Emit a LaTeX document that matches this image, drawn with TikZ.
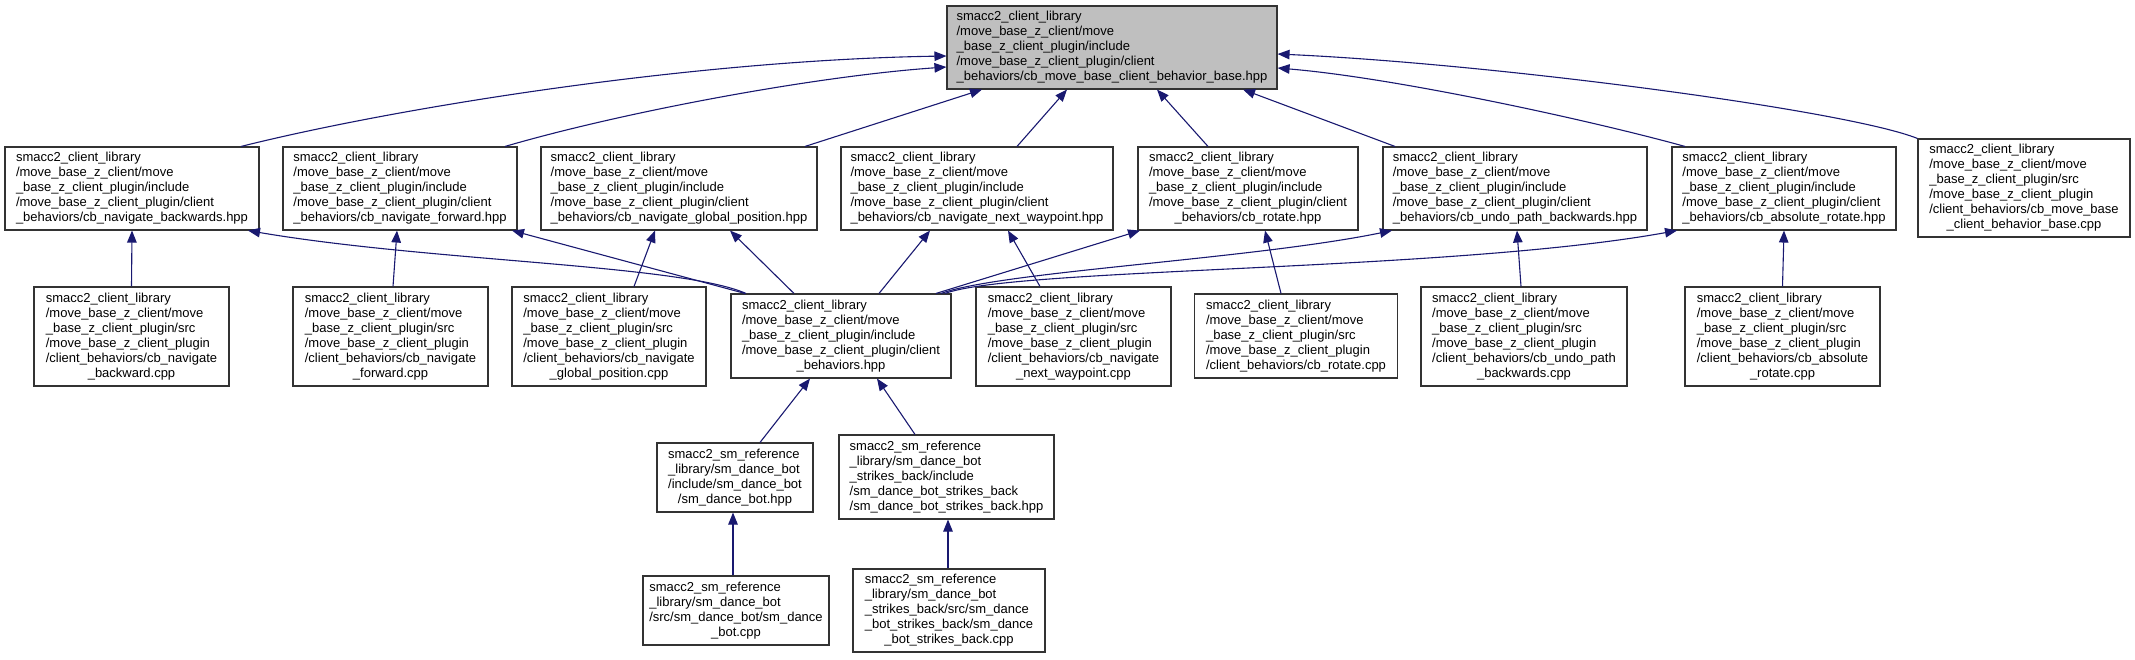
\documentclass[tikz,border=0pt]{standalone}
\usepackage{fontspec}
\setmainfont{Liberation Sans}
\usetikzlibrary{arrows.meta,calc}
\definecolor{edgeblue}{RGB}{25,25,112}
\definecolor{rootgray}{RGB}{191,191,191}
\newcommand{\dlab}[2]{\begin{tabular}{@{}l@{}}#1\\\multicolumn{1}{@{}c@{}}{#2}\end{tabular}}
\newcommand{\incpfx}{smacc2\_client\_library\\/move\_base\_z\_client/move\\\_base\_z\_client\_plugin/include\\/move\_base\_z\_client\_plugin/client}
\newcommand{\srcpfx}{smacc2\_client\_library\\/move\_base\_z\_client/move\\\_base\_z\_client\_plugin/src\\/move\_base\_z\_client\_plugin}
\begin{document}
\begin{tikzpicture}[x=1pt,y=-1pt,
  box/.style={draw=black!80, line width=1.1pt, fill=white, inner sep=0pt, anchor=center, font=\fontsize{13}{15}\selectfont},
  dep/.style={draw=edgeblue, line width=1.1pt, -{Triangle[length=12pt,width=9.5pt]}, fill=none}]
\useasboundingbox (0,0) rectangle (2135,659);
% root
\node[box, fill=rootgray, minimum width=330pt, minimum height=83pt] (root) at (1112,47.5) {\dlab{\incpfx}{\_behaviors/cb\_move\_base\_client\_behavior\_base.hpp}};
% row 2
\node[box, minimum width=254pt, minimum height=83pt] (A) at (132,188.5) {\dlab{\incpfx}{\_behaviors/cb\_navigate\_backwards.hpp}};
\node[box, minimum width=234pt, minimum height=83pt] (B) at (400,188.5) {\dlab{\incpfx}{\_behaviors/cb\_navigate\_forward.hpp}};
\node[box, minimum width=276pt, minimum height=83pt] (C) at (679,188.5) {\dlab{\incpfx}{\_behaviors/cb\_navigate\_global\_position.hpp}};
\node[box, minimum width=272pt, minimum height=83pt] (D) at (977,188.5) {\dlab{\incpfx}{\_behaviors/cb\_navigate\_next\_waypoint.hpp}};
\node[box, minimum width=220pt, minimum height=83pt] (E) at (1248,188.5) {\dlab{\incpfx}{\_behaviors/cb\_rotate.hpp}};
\node[box, minimum width=264pt, minimum height=83pt] (F) at (1515,188.5) {\dlab{\incpfx}{\_behaviors/cb\_undo\_path\_backwards.hpp}};
\node[box, minimum width=224pt, minimum height=83pt] (G) at (1784,188.5) {\dlab{\incpfx}{\_behaviors/cb\_absolute\_rotate.hpp}};
\node[box, minimum width=212pt, minimum height=98pt] (H) at (2024,188) {\dlab{\srcpfx\\/client\_behaviors/cb\_move\_base}{\_client\_behavior\_base.cpp}};
% row 3
\node[box, minimum width=195pt, minimum height=99pt] (A2) at (131.5,336.5) {\dlab{\srcpfx\\/client\_behaviors/cb\_navigate}{\_backward.cpp}};
\node[box, minimum width=195pt, minimum height=99pt] (B2) at (390.5,336.5) {\dlab{\srcpfx\\/client\_behaviors/cb\_navigate}{\_forward.cpp}};
\node[box, minimum width=194pt, minimum height=99pt] (C2) at (609,336.5) {\dlab{\srcpfx\\/client\_behaviors/cb\_navigate}{\_global\_position.cpp}};
\node[box, minimum width=220pt, minimum height=84pt] (CB) at (841,336) {\dlab{\incpfx}{\_behaviors.hpp}};
\node[box, minimum width=195pt, minimum height=99pt] (D2) at (1073.5,336.5) {\dlab{\srcpfx\\/client\_behaviors/cb\_navigate}{\_next\_waypoint.cpp}};
\node[box, minimum width=203pt, minimum height=84pt] (E2) at (1296,336) {\dlab{\srcpfx}{/client\_behaviors/cb\_rotate.cpp}};
\node[box, minimum width=206pt, minimum height=99pt] (F2) at (1524,336.5) {\dlab{\srcpfx\\/client\_behaviors/cb\_undo\_path}{\_backwards.cpp}};
\node[box, minimum width=195pt, minimum height=99pt] (G2) at (1782.5,336.5) {\dlab{\srcpfx\\/client\_behaviors/cb\_absolute}{\_rotate.cpp}};
% row 4
\node[box, minimum width=156pt, minimum height=69pt] (SM) at (735,477.5) {\dlab{smacc2\_sm\_reference\\\_library/sm\_dance\_bot\\/include/sm\_dance\_bot}{/sm\_dance\_bot.hpp}};
\node[box, minimum width=215pt, minimum height=84pt] (SMS) at (946.5,477) {\dlab{smacc2\_sm\_reference\\\_library/sm\_dance\_bot\\\_strikes\_back/include\\/sm\_dance\_bot\_strikes\_back}{/sm\_dance\_bot\_strikes\_back.hpp}};
% row 5
\node[box, minimum width=186pt, minimum height=69pt] (SMc) at (736,610.5) {\dlab{smacc2\_sm\_reference\\\_library/sm\_dance\_bot\\/src/sm\_dance\_bot/sm\_dance}{\_bot.cpp}};
\node[box, minimum width=192pt, minimum height=83pt] (SMSc) at (949,610.5) {\dlab{smacc2\_sm\_reference\\\_library/sm\_dance\_bot\\\_strikes\_back/src/sm\_dance\\\_bot\_strikes\_back/sm\_dance}{\_bot\_strikes\_back.cpp}};
% edges to root
\draw[dep] ($(A.north)+(109,0)$) .. controls +(160,-40) and +(-250,4) .. ($(root.west)+(0,8.5)$);
\draw[dep] ($(B.north)+(105,0)$) .. controls +(120,-35) and +(-130,9) .. ($(root.west)+(0,19.5)$);
\draw[dep] ($(C.north)+(126,0)$) -- ($(root.south)+(-130,0)$);
\draw[dep] ($(D.north)+(40,0)$) -- ($(root.south)+(-45,0)$);
\draw[dep] ($(E.north)+(-40,0)$) -- ($(root.south)+(45,0)$);
\draw[dep] ($(F.north)+(-120,0)$) -- ($(root.south)+(131,0)$);
\draw[dep] ($(G.north)+(-99,0)$) .. controls +(-90,-25) and +(120,10) .. ($(root.east)+(0,20.5)$);
\draw[dep] (H.north west) .. controls +(-70,-28) and +(220,10) .. ($(root.east)+(0,6.5)$);
% row 3 to row 2
\draw[dep] (A2.north) -- (A.south);
\draw[dep] ($(B2.north)+(2.5,0)$) -- ($(B.south)+(-3,0)$);
\draw[dep] ($(C2.north)+(25,0)$) -- ($(C.south)+(-24,0)$);
\draw[dep] ($(D2.north)+(-33.5,0)$) -- ($(D.south)+(31,0)$);
\draw[dep] ($(E2.north)+(-15,0)$) -- ($(E.south)+(17,0)$);
\draw[dep] ($(F2.north)+(-3,0)$) -- ($(F.south)+(2,0)$);
\draw[dep] (G2.north) -- (G.south);
% client_behaviors.hpp to row 2
\draw[dep] ($(CB.north)+(-95,0)$) .. controls +(-66,-29) and +(182,31) .. ($(A.south)+(116,0)$);
\draw[dep] ($(CB.north)+(-96,0)$) -- ($(B.south)+(112,0)$);
\draw[dep] ($(CB.north)+(-47,0)$) -- ($(C.south)+(51,0)$);
\draw[dep] ($(CB.north)+(38,0)$) -- ($(D.south)+(-47,0)$);
\draw[dep] ($(CB.north)+(95,0)$) -- ($(E.south)+(-108,0)$);
\draw[dep] ($(CB.north)+(100,0)$) .. controls +(60,-22) and +(-142,29) .. ($(F.south)+(-123,0)$);
\draw[dep] ($(CB.north)+(104,0)$) .. controls +(70,-26) and +(-227,41) .. ($(G.south)+(-107,0)$);
% rows 4 and 5
\draw[dep] ($(SM.north)+(25,0)$) -- ($(CB.south)+(-31,0)$);
\draw[dep] ($(SMS.north)+(-31.5,0)$) -- ($(CB.south)+(36,0)$);
\draw[dep] ($(SMc.north)+(-3,0)$) -- ($(SM.south)+(-2,0)$);
\draw[dep] ($(SMSc.north)+(-1,0)$) -- ($(SMS.south)+(1.5,0)$);
\end{tikzpicture}
\end{document}
